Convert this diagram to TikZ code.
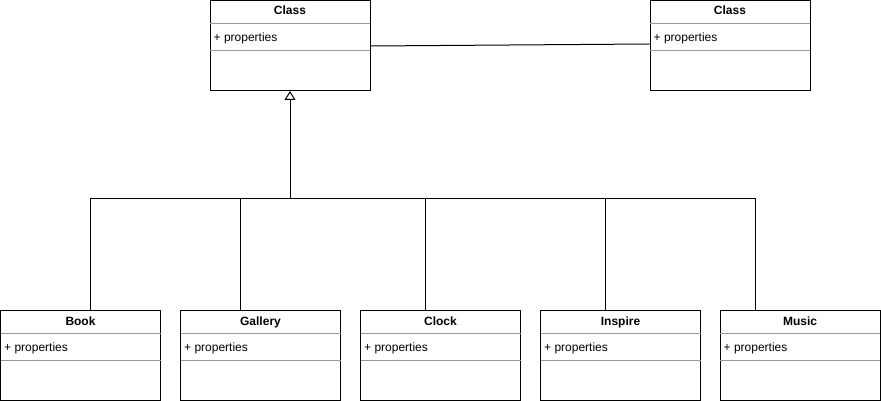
\documentclass[tikz,border=0pt]{standalone}
\usepackage{fontspec}
\setmainfont{Liberation Sans}
\usetikzlibrary{arrows.meta}

\tikzset{
    classbox/.style={draw, line width=1pt, minimum width=160pt, minimum height=90pt, inner sep=0pt},
    classtitle/.style={font=\fontsize{12}{14}\selectfont\bfseries, inner sep=0pt, text height=9pt, text depth=2.5pt},
    classprop/.style={font=\fontsize{12}{14}\selectfont, anchor=west, inner sep=0pt, text height=9pt, text depth=2.5pt},
    sepline/.style={draw=black!40, line width=1pt},
    link/.style={line width=1pt},
    inherit/.style={line width=1pt, -{Triangle[open, length=9pt, width=11pt]}}
}

\begin{document}
\begin{tikzpicture}[x=1pt, y=1pt]
    \useasboundingbox (0,0) rectangle (881,-401);

    % Top classes
    \node[classbox] (base) at (290,-45.5) {};
    \node[classbox] (other) at (730,-45.5) {};

    % Bottom classes
    \node[classbox] (book) at (80.5,-355.5) {};
    \node[classbox] (gallery) at (260.5,-355.5) {};
    \node[classbox] (clock) at (440.5,-355.5) {};
    \node[classbox] (inspire) at (620.5,-355.5) {};
    \node[classbox] (music) at (800,-355.5) {};

    % Titles
    \node[classtitle] (basetitle) at ([yshift=-11.5]base.north) {Class};
    \node[classtitle] (othertitle) at ([yshift=-11.5]other.north) {Class};
    \node[classtitle] (booktitle) at ([yshift=-12]book.north) {Book};
    \node[classtitle] (gallerytitle) at ([yshift=-12]gallery.north) {Gallery};
    \node[classtitle] (clocktitle) at ([yshift=-12]clock.north) {Clock};
    \node[classtitle] (inspiretitle) at ([yshift=-12]inspire.north) {Inspire};
    \node[classtitle] (musictitle) at ([yshift=-12]music.north) {Music};

    % Separators and properties
    \foreach \c in {base, other, book, gallery, clock, inspire, music} {
        \draw[sepline] ([xshift=0.5pt, yshift=-23.5pt]\c.north west) -- ([xshift=-0.5pt, yshift=-23.5pt]\c.north east);
        \draw[sepline] ([xshift=0.5pt, yshift=-50.5pt]\c.north west) -- ([xshift=-0.5pt, yshift=-50.5pt]\c.north east);
        \node[classprop] (\c prop) at ([xshift=4pt, yshift=-38.5pt]\c.north west) {+ properties};
    }

    % Association
    \draw[link] ([yshift=-0.5]base.east) -- ([yshift=1.5]other.west);

    % Inheritance tree
    \coordinate (hub) at (290,-198);
    \draw[inherit] (hub) -- (base.south);
    \draw[link] ([xshift=10]book.north) |- (hub);
    \draw[link] ([xshift=-20]gallery.north) |- (hub);
    \draw[link] ([xshift=-15]clock.north) |- (hub);
    \draw[link] ([xshift=-15]inspire.north) |- (hub);
    \draw[link] ([xshift=-45]music.north) |- (hub);
\end{tikzpicture}
\end{document}
